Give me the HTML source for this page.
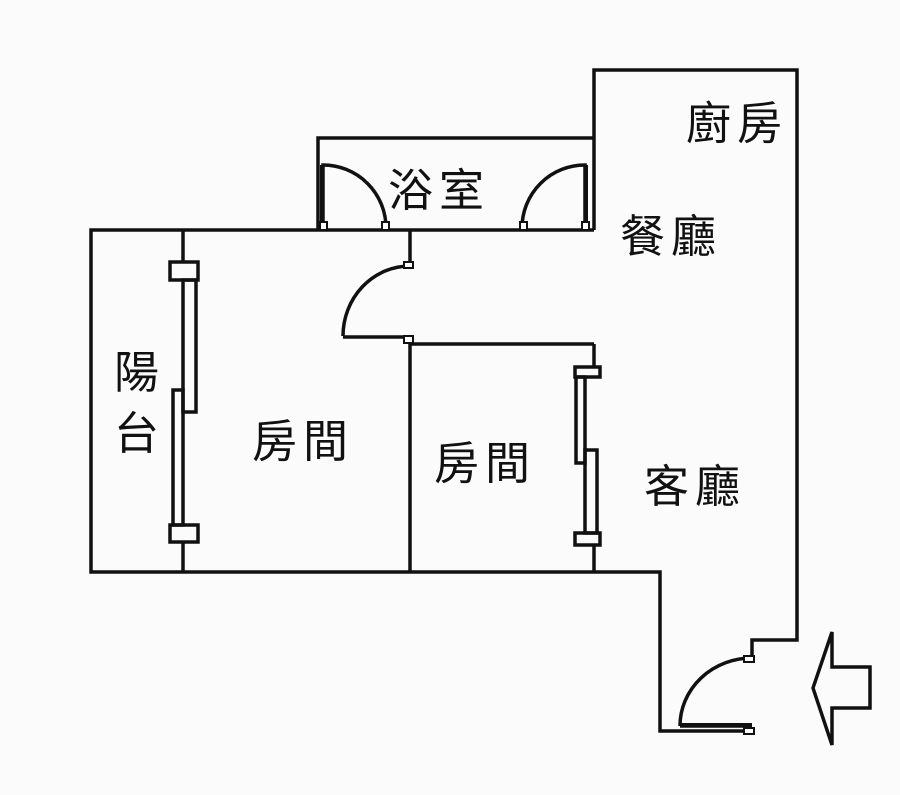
<!DOCTYPE html>
<html><head><meta charset="utf-8"><style>
html,body{margin:0;padding:0;background:#fdfdfd;}
svg{display:block}
text{font-family:"Liberation Sans","Noto Sans CJK TC",sans-serif;fill:#111;font-size:45px;letter-spacing:6px}
</style></head><body>
<svg width="900" height="795" viewBox="0 0 900 795">
<rect width="900" height="795" fill="#fbfbfb"/>
<g fill="none" stroke="#111" stroke-width="3.5" stroke-linejoin="miter">
<polyline points="318,230 91,230 91,572 660,572 660,731 752,731"/>
<polyline points="752,660 752,640 797,640 797,70 594,70 594,230"/>
<polyline points="318,230 318,138 594,138"/>
<line x1="318" y1="230" x2="594" y2="230"/>
<line x1="410" y1="230" x2="410" y2="265"/>
<polyline points="343,337 410,337 410,572"/>
<path d="M410,266 A67,70 0 0 0 343,336"/>
<line x1="410" y1="344" x2="594" y2="344"/>
<line x1="594" y1="344" x2="594" y2="367"/>
<line x1="594" y1="545" x2="594" y2="572"/>
<line x1="183" y1="230" x2="183" y2="262"/>
<line x1="183" y1="542" x2="183" y2="572"/>
<rect x="170" y="262" width="28" height="18"/>
<rect x="170" y="525" width="28" height="17"/>
<rect x="183" y="280" width="13" height="132"/>
<rect x="173" y="390" width="10" height="135"/>
<rect x="575" y="367" width="25" height="10"/>
<rect x="575" y="533" width="25" height="12"/>
<rect x="576" y="377" width="9" height="86"/>
<rect x="585" y="450" width="12" height="83"/>
<path d="M323,228 L323,165 A63,63 0 0 1 386,228"/>
<path d="M585,228 L585,165 A63,63 0 0 0 522,228"/>
<path d="M680,726 A72,68 0 0 1 752,658"/>
<line x1="680" y1="726" x2="752" y2="726"/>
<polygon points="813,688 832,632 832,667 870,667 870,708 832,708 832,745"/>
</g>
<g fill="#111">
<rect x="320" y="165" width="4" height="63"/>
<rect x="584" y="165" width="4" height="63"/>
<rect x="680" y="723" width="72" height="4"/>
</g>
<g fill="#fff" stroke="#111" stroke-width="2">
<rect x="320" y="222" width="7" height="8"/><rect x="382" y="222" width="7" height="8"/>
<rect x="520" y="222" width="7" height="8"/><rect x="582" y="222" width="7" height="8"/>
<rect x="404" y="262" width="9" height="6"/><rect x="404" y="336" width="9" height="7"/>
<rect x="744" y="656" width="10" height="6"/><rect x="744" y="728" width="10" height="6"/>
</g>
<text x="686" y="139">廚房</text>
<text x="388" y="206">浴室</text>
<text x="620" y="252">餐廳</text>
<text x="114" y="388">陽</text>
<text x="114" y="449">台</text>
<text x="252" y="457">房間</text>
<text x="434" y="479">房間</text>
<text x="644" y="502">客廳</text>
</svg>
</body></html>
